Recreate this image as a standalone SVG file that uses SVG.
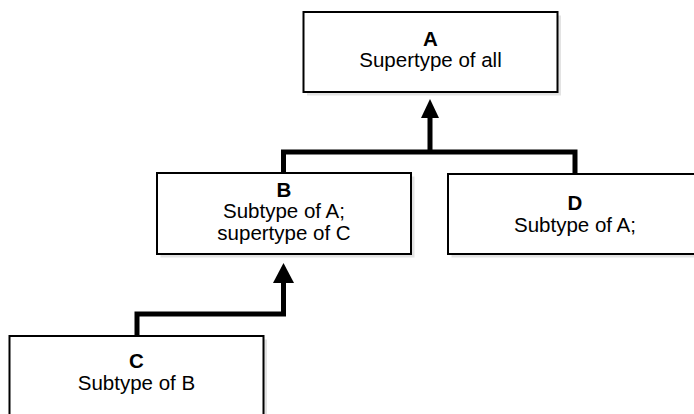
<svg xmlns="http://www.w3.org/2000/svg" width="694" height="414" viewBox="0 0 694 414">
<style>
.box{fill:#fff;stroke:#000;stroke-width:2}
.shadow{fill:#e3e3e3}
.t{font-family:"Liberation Sans",Arial,sans-serif;font-size:20.5px;text-anchor:middle;fill:#000}
.b{font-weight:bold}
.conn{fill:none;stroke:#000;stroke-width:5;stroke-linejoin:miter}
.head{fill:#000}
</style>
<rect width="694" height="414" fill="#fff"/>
<g id="connectors">
<path class="conn" d="M283.5,173 V152 H575 V174 M430,152 V116"/>
<polygon class="head" points="430,99 421,118 439,118"/>
<path class="conn" d="M137,336 V314 H283.5 V280"/>
<polygon class="head" points="283.5,263 273,283 294,283"/>
</g>
<g id="A">
<rect class="shadow" x="307" y="15.5" width="254" height="80"/>
<rect class="box" x="303.5" y="12" width="254" height="80"/>
<text class="t b" x="430.5" y="46">A</text>
<text class="t" x="430.5" y="67">Supertype of all</text>
</g>
<g id="B">
<rect class="shadow" x="160.5" y="176.5" width="254" height="81"/>
<rect class="box" x="157" y="173" width="254" height="81"/>
<text class="t b" x="284" y="197">B</text>
<text class="t" x="284" y="218">Subtype of A;</text>
<text class="t" x="284" y="240">supertype of C</text>
</g>
<g id="D">
<rect class="shadow" x="451.5" y="177.5" width="254" height="80"/>
<rect class="box" x="448" y="174" width="254" height="80"/>
<text class="t b" x="575" y="210">D</text>
<text class="t" x="575" y="232">Subtype of A;</text>
</g>
<g id="C">
<rect class="shadow" x="13" y="339.5" width="254" height="90"/>
<rect class="box" x="9.5" y="336" width="254" height="90"/>
<text class="t b" x="136.5" y="368">C</text>
<text class="t" x="136.5" y="390">Subtype of B</text>
</g>
</svg>
